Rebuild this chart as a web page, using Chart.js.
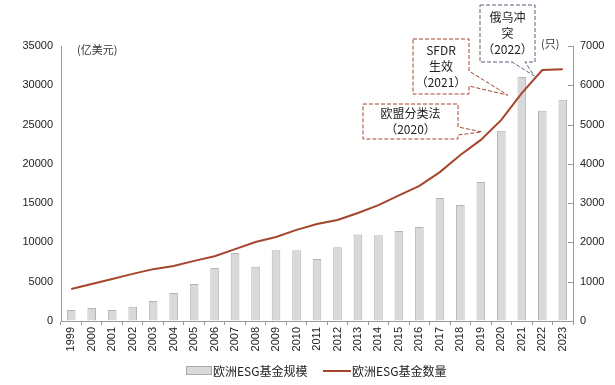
<!DOCTYPE html>
<html>
<head>
<meta charset="utf-8">
<script src="https://cdn.jsdelivr.net/npm/chart.js@4.4.1/dist/chart.umd.min.js"></script>
<style>
  html, body { margin: 0; padding: 0; background: #fff; }
  #wrap { width: 615px; height: 385px; }
</style>
</head>
<body>
<div id="wrap"><canvas id="esgChart" width="615" height="385"></canvas></div>
<script>
const years = ["1999", "2000", "2001", "2002", "2003", "2004", "2005", "2006", "2007", "2008", "2009", "2010", "2011",
    "2012", "2013", "2014", "2015", "2016", "2017", "2018", "2019", "2020", "2021", "2022", "2023"];
// 欧洲ESG基金规模 (亿美元)
const fundSize = [1400, 1650, 1400, 1800, 2550, 3550, 4700, 6750, 8650, 6900, 9000, 9000, 7900,
    9400, 11000, 10900, 11450, 11950, 15650, 14750, 17700, 24200, 31050, 26750, 28150];
// 欧洲ESG基金数量 (只)
const fundCount = [815, 940, 1070, 1200, 1320, 1400, 1530, 1650, 1830, 2010, 2140, 2320, 2470,
    2570, 2750, 2950, 3200, 3440, 3790, 4225, 4610, 5120, 5800, 6390, 6410];
const leftTicks = [0, 5000, 10000, 15000, 20000, 25000, 30000, 35000];
const rightTicks = [0, 1000, 2000, 3000, 4000, 5000, 6000, 7000];

const RED = "#a5452e";
const BLUE = "#56607e";
const CJK = "'Noto Sans CJK SC', 'Noto Sans', sans-serif";
const LATIN = "'Liberation Sans', Arial, sans-serif";

// callout boxes; the tip sits near the line point of year index "at"
const callouts = [
    { lines: ["欧盟分类法", "（2020）"], box: [363, 104, 95, 35], side: "right", base: [127, 135], at: 20, dx: 1, dy: -8, color: RED },
    { lines: ["SFDR", "生效", "（2021）"], box: [413, 39, 56, 55], side: "right", base: [71, 86], at: 22, dx: -14, dy: 2, color: RED },
    { lines: ["俄乌冲", "突", "（2022）"], box: [480, 5, 55, 57], side: "bottom", base: [512, 525], at: 23, dx: -8, dy: 6, color: BLUE },
];

function drawCallout(ctx, c, tipX, tipY) {
    const [x, y, w, h] = c.box;
    ctx.save();
    ctx.strokeStyle = c.color;
    ctx.lineWidth = 1;
    ctx.setLineDash([4, 2]);
    ctx.fillStyle = "#fff";
    ctx.beginPath();
    ctx.moveTo(x, y);
    if (c.side === "bottom") {
        ctx.lineTo(x + w, y);
        ctx.lineTo(x + w, y + h);
        ctx.lineTo(c.base[1], y + h);
        ctx.lineTo(tipX, tipY);
        ctx.lineTo(c.base[0], y + h);
        ctx.lineTo(x, y + h);
    } else {
        ctx.lineTo(x + w, y);
        ctx.lineTo(x + w, c.base[0]);
        ctx.lineTo(tipX, tipY);
        ctx.lineTo(x + w, c.base[1]);
        ctx.lineTo(x + w, y + h);
        ctx.lineTo(x, y + h);
    }
    ctx.closePath();
    ctx.fill();
    ctx.stroke();
    ctx.setLineDash([]);
    ctx.fillStyle = "#222";
    ctx.font = "12px " + CJK;
    ctx.textAlign = "center";
    ctx.textBaseline = "middle";
    const lh = 16;
    const cy = y + h / 2 - (c.lines.length - 1) * lh / 2;
    c.lines.forEach((t, i) => ctx.fillText(t, x + w / 2, cy + i * lh));
    ctx.restore();
}

const extras = {
    id: "extras",
    afterDatasetsDraw(chart) {
        const ctx = chart.ctx;
        const xs = chart.scales.x, yr = chart.scales.y1;

        // right axis ticks point inward
        ctx.save();
        ctx.strokeStyle = "#999";
        ctx.lineWidth = 1;
        rightTicks.forEach(v => {
            const py = Math.round(yr.getPixelForValue(v)) + 0.5;
            ctx.beginPath();
            ctx.moveTo(yr.left - 5, py);
            ctx.lineTo(yr.left, py);
            ctx.stroke();
        });

        // unit labels
        ctx.fillStyle = "#333";
        ctx.font = "11px " + CJK;
        ctx.textBaseline = "middle";
        ctx.textAlign = "left";
        ctx.fillText("(亿美元)", 77, 50);
        ctx.fillText("(只)", 541, 44);
        ctx.restore();

        callouts.forEach(c => {
            const px = xs.getPixelForValue(c.at) + c.dx;
            const py = yr.getPixelForValue(fundCount[c.at]) + c.dy;
            drawCallout(ctx, c, px, py);
        });

        // legend
        ctx.save();
        ctx.font = "12px " + CJK;
        ctx.textBaseline = "middle";
        ctx.textAlign = "left";
        ctx.fillStyle = "#d9d9d9";
        ctx.strokeStyle = "#aaa";
        ctx.fillRect(186.5, 366.5, 25, 8);
        ctx.strokeRect(186.5, 366.5, 25, 8);
        ctx.fillStyle = "#222";
        ctx.fillText("欧洲ESG基金规模", 213, 371);
        ctx.strokeStyle = RED;
        ctx.lineWidth = 2;
        ctx.beginPath();
        ctx.moveTo(323, 371);
        ctx.lineTo(351, 371);
        ctx.stroke();
        ctx.fillText("欧洲ESG基金数量", 352, 371);
        ctx.restore();
    },
};

new Chart(document.getElementById("esgChart"), {
    data: {
        labels: years,
        datasets: [
            {
                type: "line",
                label: "欧洲ESG基金数量",
                data: fundCount,
                yAxisID: "y1",
                borderColor: RED,
                borderWidth: 2,
                pointRadius: 0,
                tension: 0,
                order: 0,
            },
            {
                type: "bar",
                label: "欧洲ESG基金规模",
                data: fundSize,
                yAxisID: "y",
                backgroundColor: "#d9d9d9",
                borderColor: "#b3b3b3",
                borderWidth: 1,
                categoryPercentage: 1,
                barPercentage: 0.42,
                order: 1,
            },
        ],
    },
    options: {
        responsive: false,
        animation: false,
        layout: { padding: { top: 46, bottom: 30, left: 0, right: 0 } },
        plugins: { legend: { display: false }, tooltip: { enabled: false } },
        scales: {
            x: {
                offset: true,
                grid: { display: true, drawOnChartArea: false, offset: true, color: "#999", tickLength: 4 },
                border: { color: "#999" },
                ticks: { color: "#222", font: { family: LATIN, size: 11 }, minRotation: 90, maxRotation: 90, padding: 2 },
                afterFit(scale) { scale.height = 34; },
            },
            y: {
                position: "left",
                min: 0,
                max: 35000,
                afterBuildTicks(scale) { scale.ticks = leftTicks.map(v => ({ value: v })); },
                grid: { drawOnChartArea: false, drawTicks: false },
                border: { color: "#999" },
                ticks: { color: "#222", font: { family: LATIN, size: 11 }, padding: 8, callback: v => String(v) },
                afterFit(scale) { scale.width = 61; },
            },
            y1: {
                position: "right",
                min: 0,
                max: 7000,
                afterBuildTicks(scale) { scale.ticks = rightTicks.map(v => ({ value: v })); },
                grid: { drawOnChartArea: false, drawTicks: false },
                border: { color: "#999" },
                ticks: { color: "#222", font: { family: LATIN, size: 11 }, padding: 7, callback: v => String(v) },
                afterFit(scale) { scale.width = 42; },
            },
        },
    },
    plugins: [extras],
});
</script>
</body>
</html>
